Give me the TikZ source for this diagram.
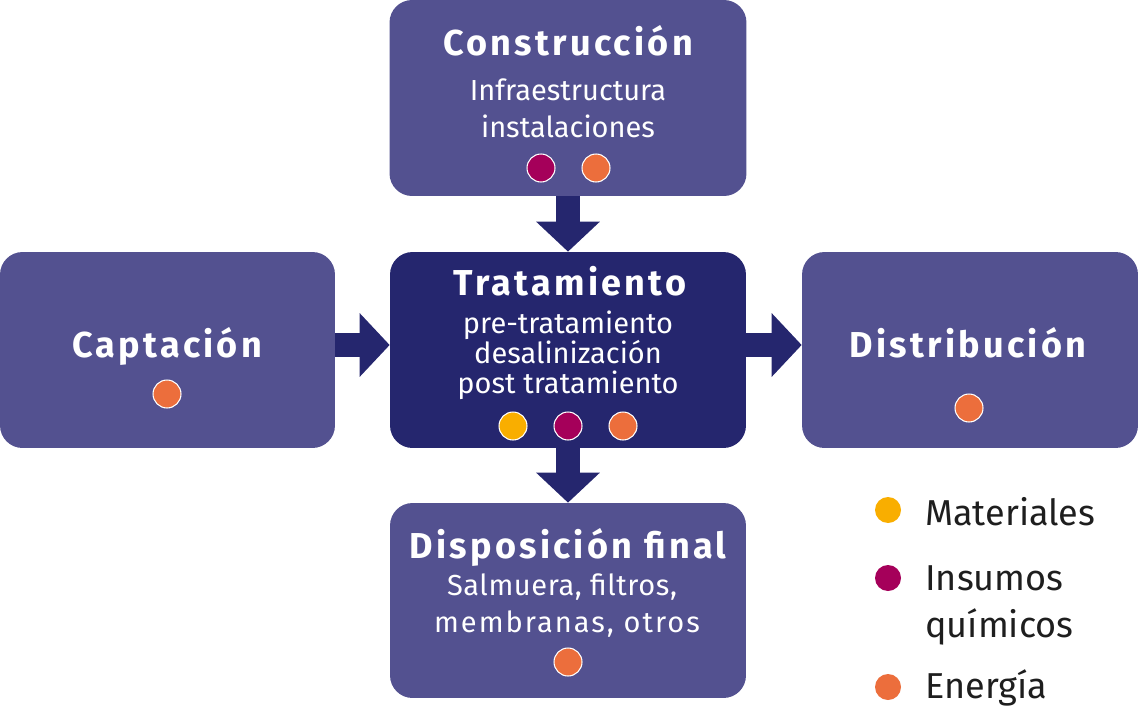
\documentclass[tikz,border=0pt]{standalone}
\usepackage{fontspec}
\setmainfont{Fira Sans}
\newfontfamily\titlefont[LetterSpace=9]{Fira Sans}
\newfontfamily\spacedA[LetterSpace=2]{Fira Sans}
\newfontfamily\spacedB[LetterSpace=7]{Fira Sans}
\usetikzlibrary{arrows.meta}
\definecolor{boxc}{HTML}{535190}
\definecolor{navy}{HTML}{25266E}
\definecolor{cyel}{HTML}{F9AE00}
\definecolor{cmag}{HTML}{A5005A}
\definecolor{cora}{HTML}{EC6E3C}
\definecolor{legtext}{HTML}{1E1E1E}
\begin{document}
\begin{tikzpicture}[x=0.02cm,y=-0.02cm,
 box/.style={fill=boxc, rounded corners=0.45cm, inner sep=0, minimum height=3.92cm},
 ttl/.style={anchor=base, text=white, inner sep=0, font=\titlefont\bfseries\fontsize{20.5}{24}\selectfont},
 sub/.style={anchor=base, text=white, inner sep=0, font=\fontsize{16.5}{20}\selectfont},
 dot/.style={circle, draw=white, line width=0.6pt, minimum size=0.56cm, inner sep=0},
 ldot/.style={circle, minimum size=0.52cm, inner sep=0},
 leg/.style={anchor=base west, inner sep=0, text=legtext, font=\fontsize{20.5}{24}\selectfont},
 flow/.style={draw=navy, line width=0.48cm, -{Triangle[width=1.24cm,length=0.6cm]}},
]
\useasboundingbox (0,0) rectangle (1138,706);
% boxes
\node[box, minimum width=7.14cm] (cons) at (568,98) {};
\node[box, fill=navy, minimum width=7.12cm] (trat) at (568,350) {};
\node[box, minimum width=6.7cm] (capt) at (167.5,350) {};
\node[box, minimum width=6.72cm] (dist) at (970,350) {};
\node[box, minimum width=7.12cm, minimum height=3.9cm] (disp) at (568,600.5) {};
% arrows
\draw[flow] (cons.south) -- (trat.north);
\draw[flow] (trat.south) -- (disp.north);
\draw[flow] ([yshift=0.1cm]capt.east) -- ([yshift=0.1cm]trat.west);
\draw[flow] ([yshift=0.1cm]trat.east) -- ([yshift=0.1cm]dist.west);
% Construccion
\node[ttl] (t1) at (568,56) {Construcción};
\node[sub] (t1a) at (568,100) {Infraestructura};
\node[sub] (t1b) at (568,137) {instalaciones};
\node[dot, fill=cmag] (d1a) at (541,168) {};
\node[dot, fill=cora] (d1b) at (596,168) {};
% Tratamiento
\node[ttl] (t2) at (570,295) {Tratamiento};
\node[sub] (t2a) at (568,333) {pre-tratamiento};
\node[sub] (t2b) at (568,363) {desalinización};
\node[sub] (t2c) at (568,393) {post tratamiento};
\node[dot, fill=cyel] (d2a) at (513,426) {};
\node[dot, fill=cmag] (d2b) at (568,426) {};
\node[dot, fill=cora] (d2c) at (623,426) {};
% Captacion
\node[ttl] (t3) at (167,357) {Captación};
\node[dot, fill=cora] (d3) at (167,394) {};
% Distribucion
\node[ttl] (t4) at (968,357) {Distribución};
\node[dot, fill=cora] (d4) at (969,408) {};
% Disposicion final
\node[ttl] (t5) at (568,558) {Disposición final};
\node[sub, font=\spacedA\fontsize{16.5}{20}\selectfont] (t5a) at (562,595) {Salmuera, filtros,};
\node[sub, font=\spacedB\fontsize{16.5}{20}\selectfont] (t5b) at (567,632) {membranas, otros};
\node[dot, fill=cora] (d5) at (568,662) {};
% legend
\node[ldot, fill=cyel] (l1) at (888,510) {};
\node[ldot, fill=cmag] (l2) at (888,578) {};
\node[ldot, fill=cora] (l3) at (888,687) {};
\node[leg] (lt1) at (925,525) {Materiales};
\node[leg] (lt2) at (925,590) {Insumos};
\node[leg] (lt2b) at (925,637) {químicos};
\node[leg] (lt3) at (925,698) {Energía};
\end{tikzpicture}
\end{document}
